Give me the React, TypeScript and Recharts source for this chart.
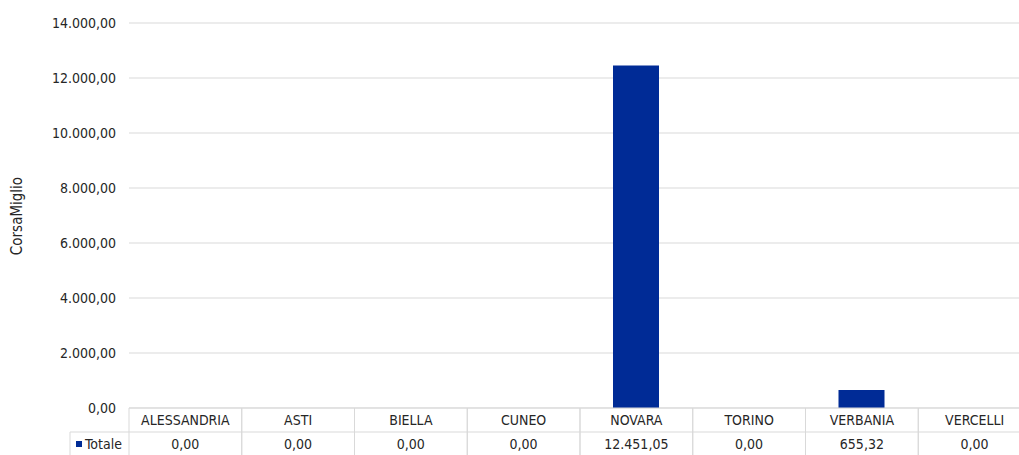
import React from 'react';
import { BarChart, Bar, XAxis, YAxis, CartesianGrid } from 'recharts';

const categories = ['ALESSANDRIA', 'ASTI', 'BIELLA', 'CUNEO', 'NOVARA', 'TORINO', 'VERBANIA', 'VERCELLI'];
const totale = [0, 0, 0, 0, 12451.05, 0, 655.32, 0];
const yTicks = [0, 2000, 4000, 6000, 8000, 10000, 12000, 14000];
const seriesName = 'Totale';
const axisTitle = 'CorsaMiglio';

const data = categories.map((c, i) => ({ name: c, totale: totale[i] }));

const fmt = (v: number) => {
  const fixed = Math.abs(v).toFixed(2);
  const [intPart, dec] = fixed.split('.');
  const withDots = intPart.replace(/\B(?=(\d{3})+(?!\d))/g, '.');
  return (v < 0 ? '-' : '') + withDots + ',' + dec;
};

const FONT = "'Liberation Sans Narrow', 'DejaVu Sans Condensed', 'Roboto', sans-serif";
const TEXT = '#262626';
const GRID = '#d9d9d9';
const BAR = '#002b96';
const TABLE_TOP = 408;
const ROW_H = 24;
const LEGEND_LEFT = 70;

const TableTick = (props: any) => {
  const { x, payload, index } = props;
  const half = payload && payload.offset ? payload.offset : 56.4;
  const left = x - half;
  const right = x + half;
  const r2 = TABLE_TOP + ROW_H;
  return (
    <g>
      <line x1={left} y1={TABLE_TOP} x2={left} y2={r2 + ROW_H + 4} stroke={GRID} />
      <line x1={right} y1={TABLE_TOP} x2={right} y2={r2 + ROW_H + 4} stroke={GRID} />
      <line x1={left} y1={r2} x2={right} y2={r2} stroke={GRID} />
      <text x={x} y={TABLE_TOP + ROW_H / 2} dy="0.355em" textAnchor="middle" fill={TEXT} fontSize={14} fontFamily={FONT}>
        {payload.value}
      </text>
      <text x={x} y={r2 + ROW_H / 2} dy="0.355em" textAnchor="middle" fill={TEXT} fontSize={14} fontFamily={FONT}>
        {fmt(totale[index])}
      </text>
      {index === 0 && (
        <g>
          <line x1={LEGEND_LEFT} y1={r2} x2={left} y2={r2} stroke={GRID} />
          <line x1={LEGEND_LEFT} y1={r2} x2={LEGEND_LEFT} y2={r2 + ROW_H + 4} stroke={GRID} />
          <rect x={LEGEND_LEFT + 6} y={r2 + ROW_H / 2 - 3} width={6} height={6} fill={BAR} />
          <text x={LEGEND_LEFT + 15} y={r2 + ROW_H / 2} dy="0.355em" textAnchor="start" fill={TEXT} fontSize={14} fontFamily={FONT}>
            {seriesName}
          </text>
        </g>
      )}
    </g>
  );
};

const AxisTitle = () => (
  <text x={22} y={216} transform="rotate(-90, 22, 216)" textAnchor="middle" fill={TEXT} fontSize={15} fontFamily={FONT}>
    {axisTitle}
  </text>
);

export default function App() {
  return (
    <div style={{ position: 'absolute', left: 0, top: 0, width: 1019, height: 455, overflow: 'hidden', background: '#fff' }}>
      <BarChart width={1031} height={480} data={data} margin={{ top: 23, right: 0, bottom: 0, left: 0 }} barSize={46}>
        <CartesianGrid vertical={false} stroke={GRID} />
        <XAxis
          dataKey="name"
          axisLine={{ stroke: GRID }}
          tickLine={false}
          height={72}
          tick={<TableTick />}
          interval={0}
        />
        <YAxis
          width={129}
          domain={[0, 14000]}
          ticks={yTicks}
          axisLine={false}
          tickLine={false}
          tickMargin={7}
          tickFormatter={fmt}
          tick={{ fill: TEXT, fontSize: 14, fontFamily: FONT }}
          label={<AxisTitle />}
        />
        <Bar dataKey="totale" fill={BAR} isAnimationActive={false} />
      </BarChart>
    </div>
  );
}
